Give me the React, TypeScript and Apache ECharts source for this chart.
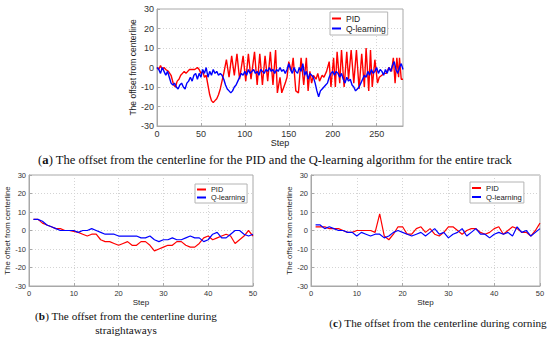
import React, { useEffect, useRef } from "react";
import * as echarts from "echarts";

// ---------- (a) entire track ----------
const pidStepsA = [0, 2, 4, 6, 8, 10, 13, 16, 19, 21, 23, 25, 27, 29, 31, 33, 35, 37, 40, 43, 46, 48, 50, 52, 54, 56, 58, 60, 62, 64, 66, 68, 70, 72, 74, 76,
  79, 82, 85, 88, 91, 94, 98, 101, 104, 107, 111, 114, 117, 120, 123, 126, 129, 132, 135, 137, 140, 142, 146, 148, 150, 153, 155, 158, 161, 164, 167, 170, 172, 174, 176, 178, 181, 183, 185, 188, 190, 193,
  196, 198, 201, 203, 205, 208, 210, 213, 216, 218, 221, 224, 227, 230, 233, 236, 238, 241, 243, 245, 248, 251, 253, 256, 258, 261, 264, 267, 269, 271, 273, 275, 276, 278, 280];
const pidValuesA = [0, -1, 1, -1, 0, -1, -2, -4, -9, -10, -7, -6, -4, -3, -2, -3, -2, -1, -1, -1, 0, -1, -3, -2, -5, -4, -9, -14, -17, -18, -17, -16, -14, -11, -7, -3,
  4, -5, 6, -4, 7, -6, 6, -7, 7, -6, 8, -9, 7, -9, 6, -7, 8, -9, 9, -13, -5, -13, -8, -5, 3, -2, 5, -12, -13, 5, -9, 5, -12, -2, -8, -4, -6, -3, -7, -4, -5, -2,
  3, -10, 5, -10, 8, -8, 9, -10, 8, -6, 9, -8, 9, -11, 7, -10, 10, -12, 9, -10, 4, -8, -5, -4, -3, -3, 0, -2, 5, -8, 5, -5, 5, -6, -6];

const qStepsA = [0, 2, 4, 6, 8, 10, 12, 14, 16, 18, 20, 22, 24, 26, 28, 30, 32, 34, 36, 38, 40, 42, 44, 46, 48, 50, 52, 54, 56, 58, 60, 62, 64, 66, 68, 70,
  72, 74, 76, 78, 80, 82, 84, 86, 88, 90, 92, 94, 96, 98, 100, 102, 104, 106, 108, 110, 112, 114, 116, 118, 120, 122, 124, 126, 128, 130, 132, 134, 136, 138, 140,
  142, 144, 146, 148, 150, 152, 154, 156, 158, 160, 162, 164, 166, 168, 170, 172, 174, 176, 178, 180, 182, 184, 186, 188, 190, 192, 194, 196, 198, 200, 202, 204,
  206, 208, 210, 212, 214, 216, 218, 220, 222, 224, 226, 228, 230, 232, 234, 236, 238, 240, 242, 244, 246, 248, 250, 252, 254, 256, 258, 260, 262, 264, 266, 268,
  270, 272, 274, 276, 278, 280];
const qValuesA = [0, -1, -3, 0, -2, -4, -2, -5, -8, -9, -8, -10, -11, -9, -8, -10, -11, -8, -7, -5, -7, -4, -3, -6, -3, -5, -1, -3, 0, -5, -2, -4, -1, -3, -2, -4,
  -3, -4, -6, -9, -11, -12, -13, -12, -10, -9, -7, -5, -3, -4, -2, -4, -1, -3, -2, -1, -3, -2, -4, -1, -2, -3, -1, -2, 0, -2, -1, -3, -1, -2, 0,
  -2, -1, -3, -1, 2, -1, -3, 0, -2, -3, 0, -2, 2, -4, -2, -6, -3, -4, -5, -8, -12, -15, -12, -11, -10, -9, -8, -5, -3, -2, -4, -2,
  -3, -5, -3, -6, -8, -5, -7, -6, -9, -10, -12, -11, -10, -8, -6, -4, -5, -2, -4, -1, -3, -2, 0, -3, -1, -2, -4, -1, -3, 0, -2, 1,
  3, -1, -3, 0, 2, -1];

// ---------- (b) straightaways & (c) cornering ----------
const stepsBC = Array.from({ length: 50 }, (_, i) => i + 1);
const pidValuesB = [6, 6, 4, 3, 2, 1, 1, 0, 0, -0.5, -1, -2, -3, -2, -2, -5, -6, -6, -7, -8, -7, -6, -8, -8, -6, -6, -8, -11, -10, -9,
  -8, -8, -6, -6, -8, -9, -9, -7, -4, -3, -5, -4, -3, -2, -3, -7, -5, -3, 0, -3];
const qValuesB = [6, 6, 5, 3, 2, 1, 0, 0, 0, 0, -1, 0, 0, 1, 0, -1, -2, -2, -2, -3, -3, -3, -3, -3, -4, -4, -3, -5, -6, -5,
  -5, -4, -5, -5, -4, -3, -4, -4, -6, -5, -2, -1, -4, -4, -2, 0, 0, -2, -3, -2];
const pidValuesC = [2, 2, 2, 1, 1, 1, 0, -1, -1, 0, 0, 0, 0, -1, 9, -3, -5, -2, 2, 2, -2, -2, 1, 2, -1, 1, -2, -3, -1, 2,
  2, 0, -2, 0, 1, 1, -1, -2, -1, 1, 2, -2, 0, 2, 1, -1, -1, -3, 0, 4];
const qValuesC = [3, 3, 1, 2, 1, 0, 0, -1, -1, -3, -1, -2, -3, -2, -2, -4, -3, -1, 0, -1, -2, -3, -2, -1, -3, -1, 1, -2, -1, -4,
  -2, -1, 1, -3, -1, 1, -2, -2, -4, -2, -1, -2, -1, -3, 2, -1, 0, -3, -1, 1];

const yTicks = { min: -30, max: 30, interval: 10 };
const seriesNames = ["PID", "Q-learning"];

const pairs = (xs: number[], ys: number[]) => xs.map((x, i) => [x, ys[i]]);

const FONT = "Liberation Sans, Arial, sans-serif";
const SERIF = "Liberation Serif, Times New Roman, serif";
const BOX = "#a8a8a8";
const GRIDC = "#d4d4d4";

function makeX(gridIndex: number, max: number, interval: number, fs: number, nfs: number, hideMax: boolean) {
  return {
    type: "value",
    gridIndex,
    min: 0,
    max,
    interval,
    name: "Step",
    nameLocation: "middle",
    nameGap: 12,
    nameTextStyle: { fontFamily: FONT, fontSize: nfs, color: "#222" },
    axisLine: { show: true, onZero: false, lineStyle: { color: BOX, width: 1 } },
    axisTick: { show: true, inside: true, length: 3, lineStyle: { color: BOX } },
    axisLabel: {
      fontFamily: FONT,
      fontSize: fs,
      color: "#333",
      margin: 3,
      showMaxLabel: !hideMax,
    },
    splitLine: { show: true, lineStyle: { color: GRIDC, type: [1, 2], width: 1 } },
  };
}

function makeY(gridIndex: number, fs: number, nfs: number, gap: number) {
  return {
    type: "value",
    gridIndex,
    ...yTicks,
    name: "The offset from centerline",
    nameLocation: "middle",
    nameRotate: 90,
    nameGap: gap,
    nameTextStyle: { fontFamily: FONT, fontSize: nfs, color: "#222" },
    axisLine: { show: true, onZero: false, lineStyle: { color: BOX, width: 1 } },
    axisTick: { show: true, inside: true, length: 3, lineStyle: { color: BOX } },
    axisLabel: { fontFamily: FONT, fontSize: fs, color: "#333", margin: 3 },
    splitLine: { show: true, lineStyle: { color: GRIDC, type: [1, 2], width: 1 } },
  };
}

function makeLegend(left: number, top: number, fs: number) {
  return {
    data: seriesNames,
    orient: "vertical",
    left,
    top,
    icon: "rect",
    itemWidth: 9,
    itemHeight: 2,
    itemGap: 1,
    padding: [2, 2, 2, 2],
    backgroundColor: "#ffffff",
    borderColor: "#b4b4b4",
    borderWidth: 1,
    borderRadius: 0,
    selectedMode: false,
    textStyle: { fontFamily: FONT, fontSize: fs, color: "#222" },
  };
}

function line(name: string, color: string, data: number[][], idx: number, w: number) {
  return {
    name,
    type: "line",
    xAxisIndex: idx,
    yAxisIndex: idx,
    data,
    showSymbol: false,
    symbol: "none",
    color,
    lineStyle: { color, width: w },
  };
}

function caption(text: string, x: number, y: number, fs: number) {
  return {
    type: "text",
    x,
    y,
    style: {
      text,
      fontFamily: SERIF,
      fontSize: fs,
      fill: "#111",
      align: "center",
      verticalAlign: "middle",
      rich: { b: { fontFamily: SERIF, fontSize: fs, fontWeight: "bold", fill: "#111" } },
    },
  };
}

export default function App() {
  const ref = useRef<HTMLDivElement>(null);
  useEffect(() => {
    if (!ref.current) return;
    const chart = echarts.init(ref.current, undefined, { renderer: "svg" });
    chart.setOption({
      animation: false,
      backgroundColor: "#ffffff",
      grid: [
        { left: 157, top: 9, width: 246, height: 117, show: true, borderColor: BOX, borderWidth: 1, backgroundColor: "#fff" },
        { left: 29, top: 175, width: 224, height: 111, show: true, borderColor: BOX, borderWidth: 1, backgroundColor: "#fff" },
        { left: 311, top: 175, width: 229, height: 111, show: true, borderColor: BOX, borderWidth: 1, backgroundColor: "#fff" },
      ],
      xAxis: [makeX(0, 280, 50, 9, 9, true), makeX(1, 50, 10, 7.5, 8, false), makeX(2, 50, 10, 7.5, 8, false)],
      yAxis: [makeY(0, 9, 8.5, 16), makeY(1, 7.5, 7.8, 13), makeY(2, 7.5, 7.8, 14)],
      legend: [makeLegend(330, 12, 8.5), makeLegend(195, 184, 7.3), makeLegend(470, 182, 7.7)],
      series: [
        line(seriesNames[0], "#ff0000", pairs(pidStepsA, pidValuesA), 0, 1.4),
        line(seriesNames[1], "#0000ff", pairs(qStepsA, qValuesA), 0, 1.4),
        line(seriesNames[0], "#ff0000", pairs(stepsBC, pidValuesB), 1, 1.2),
        line(seriesNames[1], "#0000ff", pairs(stepsBC, qValuesB), 1, 1.2),
        line(seriesNames[0], "#ff0000", pairs(stepsBC, pidValuesC), 2, 1.2),
        line(seriesNames[1], "#0000ff", pairs(stepsBC, qValuesC), 2, 1.2),
      ],
      graphic: [
        caption("({b|a}) The offset from the centerline for the PID and the Q-learning algorithm for the entire track", 275, 160, 12.6),
        caption("({b|b}) The offset from the centerline during", 126, 316, 11.2),
        caption("straightaways", 126, 330, 11.2),
        caption("({b|c}) The offset from the centerline during corning", 438, 323, 11.2),
      ],
    });
    return () => chart.dispose();
  }, []);
  return <div ref={ref} style={{ position: "absolute", left: 0, top: 0, width: 550, height: 343 }} />;
}
